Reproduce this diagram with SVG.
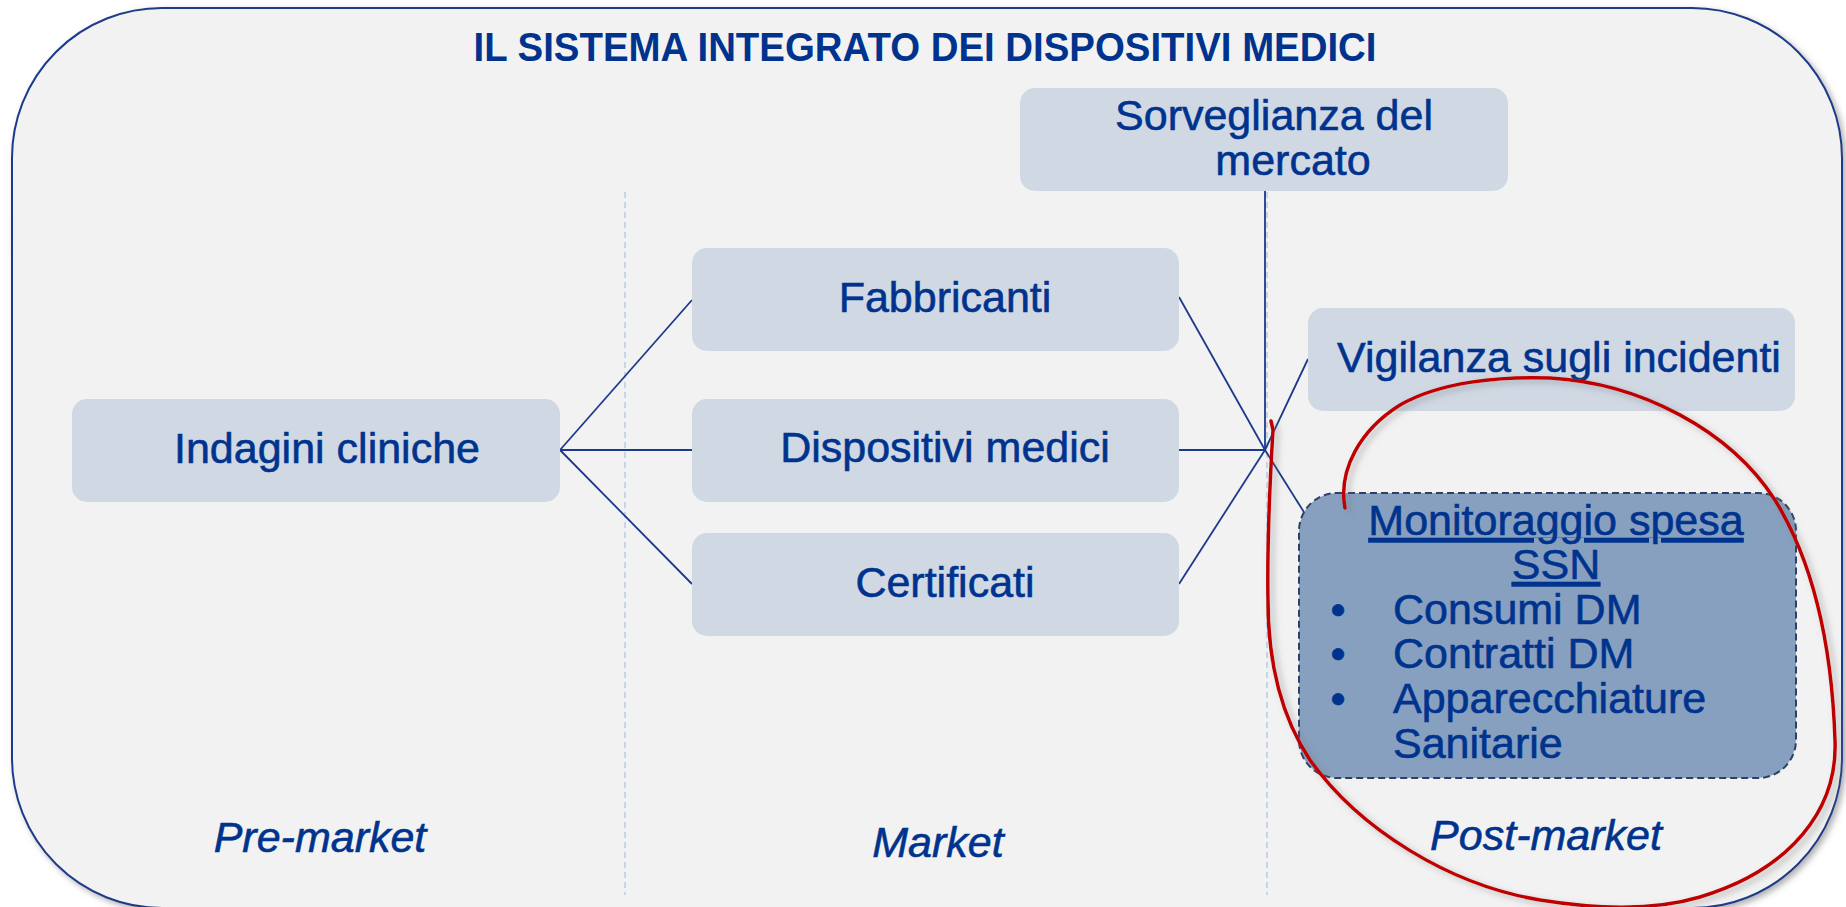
<svg xmlns="http://www.w3.org/2000/svg" width="1846" height="907" viewBox="0 0 1846 907">
<style>
.lbl{font-family:"Liberation Sans",Arial,sans-serif;font-size:43px;fill:#00338d;stroke:#00338d;stroke-width:0.6;text-anchor:middle}
.box{fill:#d0d8e4}
.conn{stroke:#1c3a8a;stroke-width:1.8;fill:none}
.sep{stroke:#b9cbe3;stroke-width:1.5;stroke-dasharray:6 4;fill:none}
.ital{font-style:italic}
</style>
<defs>
<filter id="sh" x="-5%" y="-5%" width="110%" height="110%">
<feDropShadow dx="3" dy="3" stdDeviation="3" flood-color="#7a7a7a" flood-opacity="0.6"/>
</filter>
<filter id="rsh" x="-5%" y="-5%" width="110%" height="110%">
<feDropShadow dx="4" dy="3" stdDeviation="3" flood-color="#777" flood-opacity="0.5"/>
</filter>
</defs>
<rect width="1846" height="907" fill="#ffffff"/>
<g id="frame">
<rect x="12" y="8" width="1830" height="900" rx="150" ry="150" fill="#f2f2f2" stroke="#1c3a8a" stroke-width="2" filter="url(#sh)"/>
<text x="925" y="61" font-family="'Liberation Sans',Arial,sans-serif" font-size="40" font-weight="bold" fill="#00338d" text-anchor="middle" textLength="903" lengthAdjust="spacingAndGlyphs">IL SISTEMA INTEGRATO DEI DISPOSITIVI MEDICI</text>
</g>
<g id="separators">
<line class="sep" x1="625" y1="192" x2="625" y2="895"/>
<line class="sep" x1="1267" y1="192" x2="1267" y2="895"/>
</g>
<g id="connectors">
<line class="conn" x1="1265" y1="191" x2="1265" y2="450"/>
<line class="conn" x1="560" y1="450" x2="692" y2="300"/>
<line class="conn" x1="560" y1="450" x2="692" y2="450"/>
<line class="conn" x1="560" y1="450" x2="692" y2="584"/>
<line class="conn" x1="1179" y1="297" x2="1265" y2="450"/>
<line class="conn" x1="1179" y1="450" x2="1265" y2="450"/>
<line class="conn" x1="1179" y1="584" x2="1265" y2="450"/>
<line class="conn" x1="1265" y1="450" x2="1308" y2="359"/>
<line class="conn" x1="1265" y1="450" x2="1307" y2="517"/>
</g>
<g id="n-indagini">
<rect class="box" x="72" y="399" width="488" height="103" rx="15"/>
<text class="lbl" x="327" y="463">Indagini cliniche</text>
</g>
<g id="n-fabbricanti">
<rect class="box" x="692" y="248" width="487" height="103" rx="15"/>
<text class="lbl" x="945" y="312">Fabbricanti</text>
</g>
<g id="n-dispositivi">
<rect class="box" x="692" y="399" width="487" height="103" rx="15"/>
<text class="lbl" x="945" y="462">Dispositivi medici</text>
</g>
<g id="n-certificati">
<rect class="box" x="692" y="533" width="487" height="103" rx="15"/>
<text class="lbl" x="945" y="597">Certificati</text>
</g>
<g id="n-sorveglianza">
<rect class="box" x="1020" y="88" width="488" height="103" rx="15"/>
<text class="lbl" x="1274" y="130">Sorveglianza del</text>
<text class="lbl" x="1293" y="175">mercato</text>
</g>
<g id="n-vigilanza">
<rect class="box" x="1308" y="308" width="487" height="103" rx="15"/>
<text class="lbl" x="1559" y="372">Vigilanza sugli incidenti</text>
</g>
<g id="n-monitoraggio">
<rect x="1299" y="493" width="497" height="285" rx="38" fill="#87a0bf" stroke="#2c4068" stroke-width="2" stroke-dasharray="7 4"/>
<text class="lbl" x="1556" y="535" text-decoration="underline">Monitoraggio spesa</text>
<text class="lbl" x="1556" y="579" text-decoration="underline">SSN</text>
<text class="lbl" x="1338" y="624">•</text>
<text class="lbl" x="1393" y="624" style="text-anchor:start">Consumi DM</text>
<text class="lbl" x="1338" y="668">•</text>
<text class="lbl" x="1393" y="668" style="text-anchor:start">Contratti DM</text>
<text class="lbl" x="1338" y="713">•</text>
<text class="lbl" x="1393" y="713" style="text-anchor:start">Apparecchiature</text>
<text class="lbl" x="1393" y="758" style="text-anchor:start">Sanitarie</text>
</g>
<g id="phases">
<text class="lbl ital" x="320" y="852">Pre-market</text>
<text class="lbl ital" x="938" y="857">Market</text>
<text class="lbl ital" x="1546" y="850">Post-market</text>
</g>
<g id="annotation">
<path d="M1345,508 C1338,470 1360,430 1400,405 C1440,382 1500,376 1550,378 C1640,383 1730,430 1775,500 C1815,565 1832,650 1835,740 C1838,810 1790,870 1700,897 C1650,912 1590,908 1540,900 C1450,885 1360,830 1310,760 C1280,715 1268,660 1268,600 C1267,540 1270,480 1273,430 L1271,421" fill="none" stroke="#c00000" stroke-width="3.5" stroke-linecap="round" stroke-linejoin="round" filter="url(#rsh)"/>
</g>
</svg>
